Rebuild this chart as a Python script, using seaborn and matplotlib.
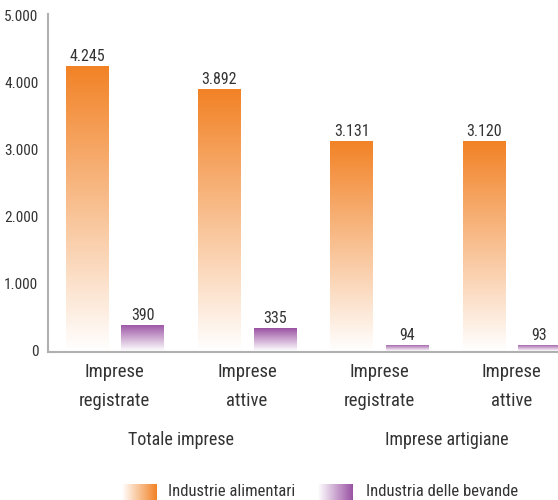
import numpy as np
import pandas as pd
import matplotlib
matplotlib.use("Agg")
import matplotlib.pyplot as plt
import seaborn as sns
from matplotlib.colors import LinearSegmentedColormap
from matplotlib import font_manager

categories = ["Imprese\nregistrate", "Imprese\nattive", "Imprese\nregistrate", "Imprese\nattive"]
series_names = ["Industrie alimentari", "Industria delle bevande"]
alimentari = [4245, 3892, 3131, 3120]
bevande = [390, 335, 94, 93]
groups = ["Totale imprese", "Imprese artigiane"]
yticks = [0, 1000, 2000, 3000, 4000, 5000]

sns.set_theme(style="white")
avail = {f.name for f in font_manager.fontManager.ttflist}
fam = [f for f in ["Liberation Sans Narrow", "Roboto Condensed", "DejaVu Sans Condensed", "DejaVu Sans"] if f in avail]
plt.rcParams["font.family"] = fam
txt = "#333333"
orange = "#F28225"
purple = "#9A52A3"

df = pd.DataFrame({
    "cat": list(range(4)) * 2,
    "serie": [series_names[0]] * 4 + [series_names[1]] * 4,
    "val": alimentari + bevande,
})

fig = plt.figure(figsize=(5.58, 5.00), dpi=100)
ax = fig.add_axes([48 / 558, 1 - 352 / 500, 1 - 48 / 558, (352 - 14) / 500])
sns.barplot(data=df, x="cat", y="val", hue="serie", palette=[orange, purple],
            width=0.84, dodge=True, ax=ax, legend=False, saturation=1)

def fmt(v):
    return f"{v:,}".replace(",", ".")

cmaps = {
    0: LinearSegmentedColormap.from_list("o", ["#FFFFFF", orange]),
    1: LinearSegmentedColormap.from_list("p", ["#FFFFFF", purple]),
}
grad = np.linspace(0, 1, 256).reshape(-1, 1)
bar_w = 0.32
patches = [p for p in ax.patches]
for i, p in enumerate(patches):
    s = 0 if i < 4 else 1
    cx = p.get_x() + p.get_width() / 2
    p.set_x(cx - bar_w / 2)
    p.set_width(bar_w)
    x0, w, h = p.get_x(), p.get_width(), p.get_height()
    p.set_facecolor("none")
    p.set_edgecolor("none")
    im = ax.imshow(grad, cmap=cmaps[s], aspect="auto", origin="lower",
                   extent=[x0, x0 + w, 0, h], zorder=2)
    im.set_clip_path(p)
    ax.text(x0 + w / 2, h + 30, fmt(int(h)), ha="center", va="bottom",
            fontsize=11.5, color=txt)

ax.set_xlim(-0.505, 3.35)
ax.set_ylim(-15, 5015)
ax.set_yticks(yticks)
ax.set_yticklabels([fmt(v) for v in yticks], fontsize=11, color=txt)
ax.set_xticks(range(4))
ax.set_xticklabels(categories, fontsize=13.5, color=txt, linespacing=1.75)
ax.tick_params(axis="both", length=0, pad=7)
ax.tick_params(axis="x", pad=8)
ax.set_xlabel("")
ax.set_ylabel("")
for s in ["top", "right"]:
    ax.spines[s].set_visible(False)
for s in ["left", "bottom"]:
    ax.spines[s].set_color("#B0B0B0")
    ax.spines[s].set_linewidth(1.5)

fig.text(181 / 558, 1 - 440 / 500, groups[0], ha="center", va="center", fontsize=13, color=txt)
fig.text(447 / 558, 1 - 440 / 500, groups[1], ha="center", va="center", fontsize=13, color=txt)

lg = np.linspace(0, 1, 256).reshape(1, -1)
for s, (x0, tx) in enumerate([(122, 168), (318, 366)]):
    lax = fig.add_axes([x0 / 558, 0, 34 / 558, 16 / 500])
    lax.imshow(lg, cmap=cmaps[s], aspect="auto")
    lax.axis("off")
    fig.text(tx / 558, 1 - 492 / 500, series_names[s], ha="left", va="center", fontsize=12, color=txt)

fig.savefig("out.png", dpi=100)
